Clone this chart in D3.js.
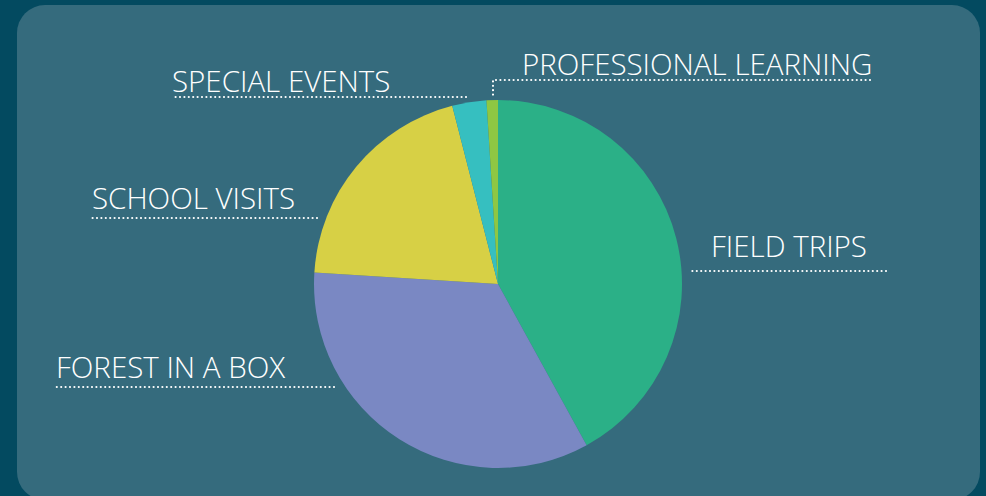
<!DOCTYPE html>
<html>
<head>
<meta charset="utf-8">
<script src="https://cdn.jsdelivr.net/npm/d3@7"></script>
<style>
  html, body { margin: 0; padding: 0; background: #034a60; }
  svg { display: block; }
</style>
</head>
<body>
<div id="vizContainer"></div>
<script>
let w = 986;
let h = 496;

// chart data
let categories = ["FIELD TRIPS", "FOREST IN A BOX", "SCHOOL VISITS", "SPECIAL EVENTS", "PROFESSIONAL LEARNING"];
let values = [42, 34, 20, 3, 1];
let colors = ["#2bb087", "#7a88c3", "#d7d045", "#36bfc0", "#8ec743"];

// where each label sits (text start, baseline) and where its dotted line ends
let labelLayout = [
	{ tx: 711, ty: 257, lx0: 692, lx1: 886, ly: 271 },
	{ tx: 56, ty: 378, lx0: 56, lx1: 334, ly: 387 },
	{ tx: 92, ty: 209, lx0: 92, lx1: 317, ly: 218 },
	{ tx: 172, ty: 92, lx0: 172, lx1: 466, ly: 97 },
	{ tx: 522, ty: 75, lx0: 493, lx1: 870, ly: 80, drop: 98 }
];

let cx = 498;
let cy = 284;
let radius = 184;

let viz = d3.select("#vizContainer").append("svg")
	.attr("width", w)
	.attr("height", h)
	.style("background-color", "#034a60")
	;

viz.append("rect")
	.attr("x", 17)
	.attr("y", 5)
	.attr("width", 963)
	.attr("height", 495)
	.attr("rx", 28)
	.attr("fill", "#356b7d")
	;

let pie = d3.pie().sort(null).value(function (d) { return d; });
let arc = d3.arc().innerRadius(0).outerRadius(radius);
let color = d3.scaleOrdinal().domain(categories).range(colors);

let graphGroup = viz.append("g")
	.attr("class", "graphGroup")
	.attr("transform", "translate(" + cx + "," + cy + ")")
	;

graphGroup.selectAll(".slice")
	.data(pie(values))
	.enter()
	.append("path")
	.attr("class", "slice")
	.attr("d", arc)
	.attr("fill", function (d, i) { return color(categories[i]); })
	;

let labelGroup = viz.append("g").attr("class", "labels");

let labels = labelGroup.selectAll(".label")
	.data(categories)
	.enter()
	.append("g")
	.attr("class", "label")
	;

labels.append("text")
	.attr("x", function (d, i) { return labelLayout[i].tx; })
	.attr("y", function (d, i) { return labelLayout[i].ty; })
	.attr("fill", "white")
	.style("font-family", "'Open Sans', sans-serif")
	.style("font-weight", 300)
	.style("font-size", "29.5px")
	.text(function (d) { return d; })
	;

labels.append("path")
	.attr("d", function (d, i) {
		let l = labelLayout[i];
		let p = "M" + l.lx1 + "," + l.ly + "H" + l.lx0;
		if (l.drop) p += "V" + l.drop;
		return p;
	})
	.attr("fill", "none")
	.attr("stroke", "white")
	.attr("stroke-width", 2.2)
	.attr("stroke-linecap", "round")
	.attr("stroke-dasharray", "0 4.4")
	;
</script>
</body>
</html>
